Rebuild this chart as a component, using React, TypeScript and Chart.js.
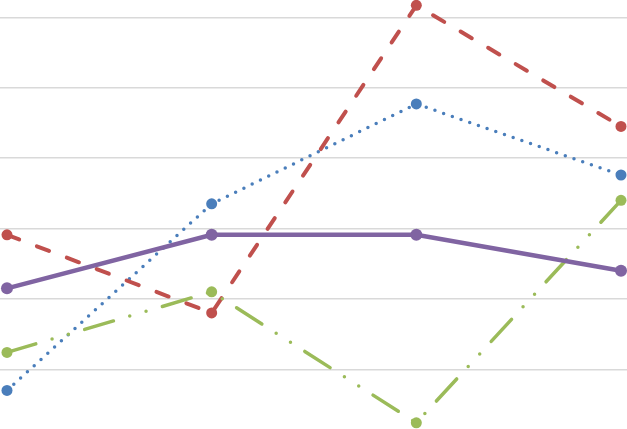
import React, { useEffect, useRef } from "react";
import { Chart, registerables } from "chart.js";

Chart.register(...registerables);

const categories = ["1", "2", "3", "4"];
const seriesBlue = [0.7, 3.35, 4.77, 3.76];
const seriesRed = [2.91, 1.8, 6.17, 4.45];
const seriesGreen = [1.24, 2.1, 0.24, 3.4];
const seriesPurple = [2.15, 2.91, 2.91, 2.4];
const yMin = 0.152;
const yMax = 6.246;
const xMin = -0.0342;
const xMax = 3.0293;

const toPoints = (vals: number[]) => vals.map((y, i) => ({ x: i, y }));

export default function App() {
  const ref = useRef<HTMLCanvasElement | null>(null);
  useEffect(() => {
    if (!ref.current) return;
    const chart = new Chart(ref.current, {
      type: "line",
      data: {
        labels: categories,
        datasets: [
          {
            label: "Purple",
            data: toPoints(seriesPurple),
            borderColor: "#8064A2",
            backgroundColor: "#8064A2",
            borderWidth: 4.5,
            pointRadius: 6,
            pointBorderWidth: 0,
            clip: false,
          },
          {
            label: "Green",
            data: toPoints(seriesGreen),
            borderColor: "#9BBB59",
            backgroundColor: "#9BBB59",
            borderWidth: 3.5,
            borderDash: [30, 17, 0, 17, 0, 17],
            borderCapStyle: "round",
            pointRadius: 5.5,
            pointBorderWidth: 0,
            clip: false,
          },
          {
            label: "Red",
            data: toPoints(seriesRed),
            borderColor: "#C0504D",
            backgroundColor: "#C0504D",
            borderWidth: 4,
            borderDash: [13, 19],
            borderCapStyle: "round",
            pointRadius: 5.5,
            pointBorderWidth: 0,
            clip: false,
          },
          {
            label: "Blue",
            data: toPoints(seriesBlue),
            borderColor: "#4A7EBB",
            backgroundColor: "#4A7EBB",
            borderWidth: 3.5,
            borderDash: [0, 9.2],
            borderCapStyle: "round",
            pointRadius: 5.5,
            pointBorderWidth: 0,
            clip: false,
          },
        ],
      },
      options: {
        responsive: false,
        devicePixelRatio: 1,
        animation: false,
        layout: { autoPadding: false, padding: 0 },
        plugins: { legend: { display: false }, tooltip: { enabled: false } },
        elements: { line: { tension: 0 } },
        scales: {
          x: { type: "linear", display: false, min: xMin, max: xMax },
          y: {
            min: yMin,
            max: yMax,
            border: { display: false },
            ticks: { display: false, stepSize: 1, includeBounds: false },
            grid: {
              drawTicks: false,
              lineWidth: 1.5,
              color: (ctx: any) =>
                ctx.tick && Number.isInteger(ctx.tick.value) ? "#d9d9d9" : "rgba(0,0,0,0)",
            },
          },
        },
      },
    });
    return () => chart.destroy();
  }, []);
  return (
    <div style={{ position: "fixed", left: 0, top: 0, width: 627, height: 429, background: "#fff" }}>
      <canvas ref={ref} width={627} height={429} style={{ display: "block" }} />
    </div>
  );
}
